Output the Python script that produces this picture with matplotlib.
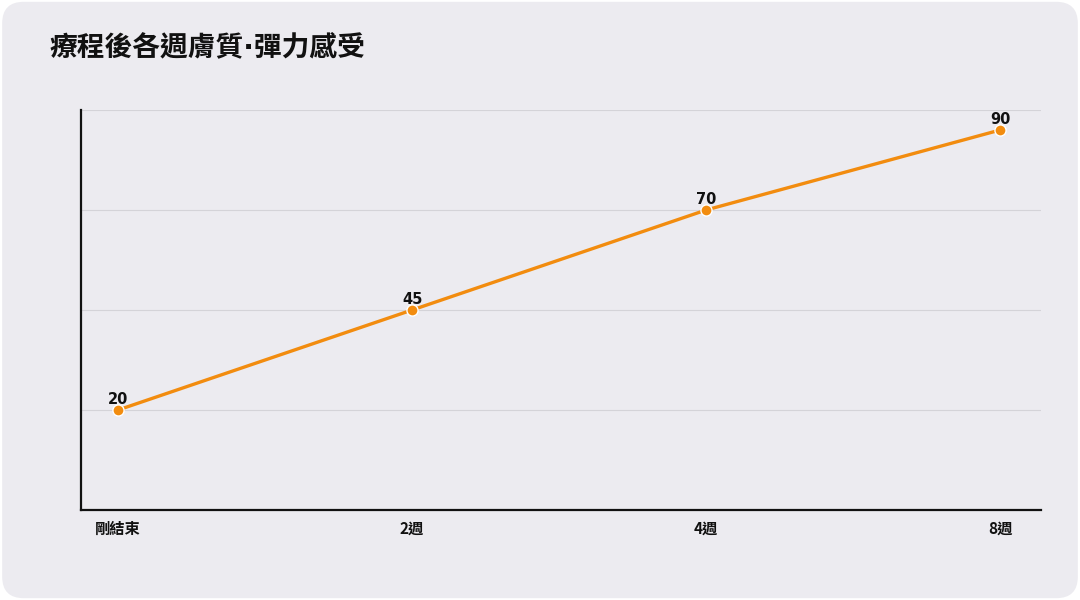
import matplotlib
matplotlib.use("Agg")
import matplotlib.pyplot as plt
from matplotlib.patches import FancyBboxPatch

plt.rcParams["font.family"] = ["Noto Sans CJK TC", "DejaVu Sans"]

# data
categories = ["剛結束", "2週", "4週", "8週"]
values = [20, 45, 70, 90]
grid_values = [20, 45, 70, 95]
title = "療程後各週膚質·彈力感受"

bg = "#ECEBF0"
orange = "#F28C0F"

fig = plt.figure(figsize=(10.8, 6), dpi=100)
fig.patch.set_facecolor("white")
# rounded card background
card = FancyBboxPatch((0.002, 0.003), 0.996, 0.994,
                      boxstyle="round,pad=0,rounding_size=0.02",
                      transform=fig.transFigure, facecolor=bg,
                      edgecolor="none", mutation_aspect=1.8, zorder=-10)
fig.patches.append(card)

# axes: x 81..1041 px, y 110..510 px
ax = fig.add_axes([81 / 1080, 90 / 600, 960 / 1080, 400 / 600])
ax.set_facecolor("none")
ax.set_zorder(5)

x = list(range(len(categories)))
ax.plot(x, values, color=orange, linewidth=2.4, zorder=3)
ax.plot(x, values, "o", color=orange, markersize=8,
        markeredgecolor="white", markeredgewidth=1.0, zorder=4)

for xi, v in zip(x, values):
    ax.annotate(str(v), (xi, v), xytext=(0, 2.5), textcoords="offset points",
                ha="center", va="bottom", fontsize=10.5, fontweight="bold",
                color="#111111", zorder=5, family=["DejaVu Sans"])

ax.set_xlim(-0.126, 3.139)
ax.set_ylim(-5, 95)
ax.set_yticks(grid_values)
ax.set_yticklabels([])
ax.tick_params(axis="y", length=0)
ax.grid(axis="y", color="#D4D3D8", linewidth=0.8)
ax.set_axisbelow(True)

ax.set_xticks(x)
ax.set_xticklabels(categories, fontsize=11, fontweight="bold", color="#111111")
ax.tick_params(axis="x", length=0, pad=8)

for s in ["top", "right"]:
    ax.spines[s].set_visible(False)
for s in ["left", "bottom"]:
    ax.spines[s].set_color("#111111")
    ax.spines[s].set_linewidth(1.6)

fig.text(49 / 1080, 1 - 48 / 600, title, fontsize=20, fontweight="bold",
         color="#111111", ha="left", va="center",
         family=["DejaVu Sans", "Noto Sans CJK TC"])

fig.savefig("out.png", dpi=100, facecolor=fig.get_facecolor())
